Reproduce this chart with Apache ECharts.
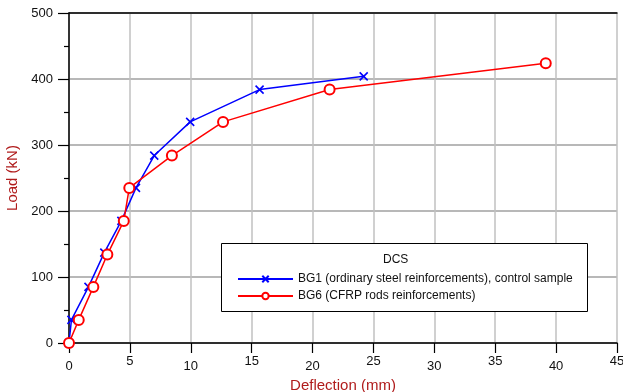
<!DOCTYPE html>
<html><head><meta charset="utf-8">
<script src="https://cdn.jsdelivr.net/npm/echarts@6/dist/echarts.min.js"></script>
<style>html,body{margin:0;padding:0;background:#fff}#c{width:623px;height:392px}</style>
</head><body><div id="c"></div>
<script>
const bg1Defl = [0, 0.2, 1.6, 2.9, 4.3, 5.5, 7.0, 9.95, 15.65, 24.2];
const bg1Load = [0, 35, 85, 137, 185, 235, 284, 335, 384, 404];
const bg6Defl = [0, 0.8, 2.0, 3.15, 4.5, 4.95, 8.45, 12.65, 21.4, 39.15];
const bg6Load = [0, 35, 85, 134, 185, 235, 284, 335, 384, 424];
const seriesNames = ['BG1 (ordinary steel reinforcements), control sample', 'BG6 (CFRP rods reinforcements)'];
const legendTitle = 'DCS';
const xName = 'Deflection (mm)';
const yName = 'Load (kN)';

const FONT = 'Liberation Sans, Arial, sans-serif';
const nameColor = '#b01c1c';
const chart = echarts.init(document.getElementById('c'));
const zip = (a, b) => a.map((v, i) => [v, b[i]]);
const crossPath = 'path://M0,0L10,10M10,0L0,10';
const lblBase = {color: '#111', fontSize: 13, fontFamily: FONT};
chart.setOption({
  animation: false,
  textStyle: {fontFamily: FONT},
  grid: {left: 69, right: 6, top: 13, bottom: 49, containLabel: false, outerBoundsMode: 'none'},
  xAxis: [{
    type: 'value', min: 0, max: 45, interval: 5,
    name: xName, nameLocation: 'middle', nameGap: 30,
    nameTextStyle: {color: nameColor, fontSize: 15, fontFamily: FONT},
    axisLine: {show: true, onZero: false, lineStyle: {color: '#000', width: 1.5}},
    axisTick: {show: true, length: 10, lineStyle: {color: '#000', width: 1.2}},
    axisLabel: Object.assign({margin: 17, formatter: v => (v % 10 === 0 ? String(v) : '')}, lblBase),
    splitLine: {show: true, lineStyle: {color: '#c0c0c0', width: 1.5}}
  }, {
    type: 'value', position: 'bottom', min: 0, max: 45, interval: 5,
    axisLine: {show: false}, axisTick: {show: false},
    axisLabel: Object.assign({margin: 12, formatter: v => (v % 10 === 5 ? String(v) : '')}, lblBase),
    splitLine: {show: false}
  }, {
    type: 'value', position: 'top', min: 0, max: 45, interval: 5,
    axisLine: {show: true, lineStyle: {color: '#000', width: 1.5}},
    axisTick: {show: false}, axisLabel: {show: false}, splitLine: {show: false}
  }],
  yAxis: {
    type: 'value', min: 0, max: 500, interval: 100,
    name: yName, nameLocation: 'middle', nameGap: 49, nameRotate: 90,
    nameTextStyle: {color: nameColor, fontSize: 15, fontFamily: FONT},
    axisLine: {show: true, onZero: false, lineStyle: {color: '#000', width: 1.5}},
    axisTick: {show: true, length: 11, lineStyle: {color: '#000', width: 1.2}},
    minorTick: {show: true, splitNumber: 2, length: 5, lineStyle: {color: '#000', width: 1.2}},
    axisLabel: Object.assign({margin: 16}, lblBase),
    splitLine: {show: true, lineStyle: {color: '#a0a0a0', width: 1.5}}
  },
  legend: {
    orient: 'vertical', left: 232, top: 268, itemGap: 5,
    itemWidth: 55, itemHeight: 8,
    textStyle: {fontSize: 12, fontFamily: FONT, color: '#111'},
    data: seriesNames
  },
  graphic: [
    {type: 'rect', left: 221, top: 243, z: 1,
     shape: {width: 366, height: 68}, style: {fill: '#fff', stroke: '#000', lineWidth: 1}},
    {type: 'text', left: 383, top: 254, z: 2,
     style: {text: legendTitle, fontSize: 12, fontFamily: FONT, fill: '#111'}}
  ],
  series: [{
    name: seriesNames[0], type: 'line', data: zip(bg1Defl, bg1Load),
    symbol: crossPath, symbolSize: 8,
    lineStyle: {color: '#0000ff', width: 1.5},
    itemStyle: {color: '#0000ff', borderColor: '#0000ff', borderWidth: 1.6},
    z: 3
  }, {
    name: seriesNames[1], type: 'line', data: zip(bg6Defl, bg6Load),
    symbol: 'emptyCircle', symbolSize: 10,
    lineStyle: {color: '#ff0000', width: 1.5},
    itemStyle: {color: '#ff0000', borderColor: '#ff0000', borderWidth: 1.4},
    z: 4
  }]
});
</script></body></html>
